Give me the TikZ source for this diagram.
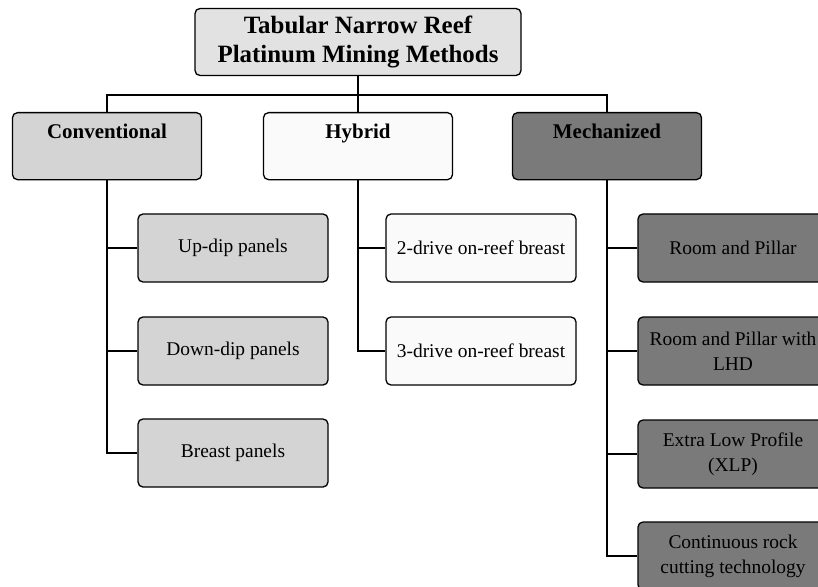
\documentclass[tikz,border=0pt]{standalone}
\usepackage{fontspec}
\setmainfont{Liberation Serif}
\definecolor{rootgray}{RGB}{226,226,226}
\definecolor{convgray}{RGB}{212,212,212}
\definecolor{hybwhite}{RGB}{250,250,250}
\definecolor{mechgray}{RGB}{122,122,122}
\tikzset{
  box/.style={draw, line width=1.3bp, rounded corners=5bp, align=center},
  topbox/.style={box, fill=rootgray, minimum width=326bp, minimum height=67bp,
    font=\fontsize{25}{29}\selectfont\bfseries},
  groupbox/.style={box, anchor=north, minimum width=189bp, inner sep=8bp,
    text height=18bp, text depth=33bp, font=\fontsize{21}{24}\selectfont\bfseries},
  methodbox/.style={box, minimum width=190bp, minimum height=68bp, inner sep=2bp,
    font=\fontsize{19.5}{25}\selectfont},
  link/.style={line width=2.8bp}
}
\begin{document}
\begin{tikzpicture}[x=1bp,y=-1bp]
\useasboundingbox (0,0) rectangle (818,587);
% top of the tree
\node[topbox] (root) at (358,42) {Tabular Narrow Reef\\Platinum Mining Methods};
\node[groupbox, fill=convgray] (conv) at (107,112) {Conventional};
\node[groupbox, fill=hybwhite] (hyb) at (358,112) {Hybrid};
\node[groupbox, fill=mechgray] (mech) at (607,112) {Mechanized};
\coordinate (bus) at (358,95);
\draw[link] (root.south) -- (bus) -| (conv.north);
\draw[link] (bus) -| (mech.north);
\draw[link] (bus) -- (hyb.north);
% conventional methods
\node[methodbox, fill=convgray] (updip) at (233,248) {Up-dip panels};
\node[methodbox, fill=convgray] (downdip) at (233,351) {Down-dip panels};
\node[methodbox, fill=convgray] (breast) at (233,453) {Breast panels};
\draw[link] (conv.south) |- (breast.west);
\draw[link] (conv.south |- updip.west) -- (updip.west);
\draw[link] (conv.south |- downdip.west) -- (downdip.west);
% hybrid methods
\node[methodbox, fill=hybwhite] (twodrive) at (481,248) {2-drive on-reef breast};
\node[methodbox, fill=hybwhite] (threedrive) at (481,351) {3-drive on-reef breast};
\draw[link] (hyb.south) |- (threedrive.west);
\draw[link] (hyb.south |- twodrive.west) -- (twodrive.west);
% mechanized methods
\node[methodbox, fill=mechgray] (rp) at (733,248) {Room and Pillar};
\node[methodbox, fill=mechgray] (rplhd) at (733,351) {Room and Pillar with\\LHD};
\node[methodbox, fill=mechgray] (xlp) at (733,454) {Extra Low Profile\\(XLP)};
\node[methodbox, fill=mechgray] (crc) at (733,556) {Continuous rock\\cutting technology};
\draw[link] (mech.south) |- (crc.west);
\draw[link] (mech.south |- rp.west) -- (rp.west);
\draw[link] (mech.south |- rplhd.west) -- (rplhd.west);
\draw[link] (mech.south |- xlp.west) -- (xlp.west);
\end{tikzpicture}
\end{document}
